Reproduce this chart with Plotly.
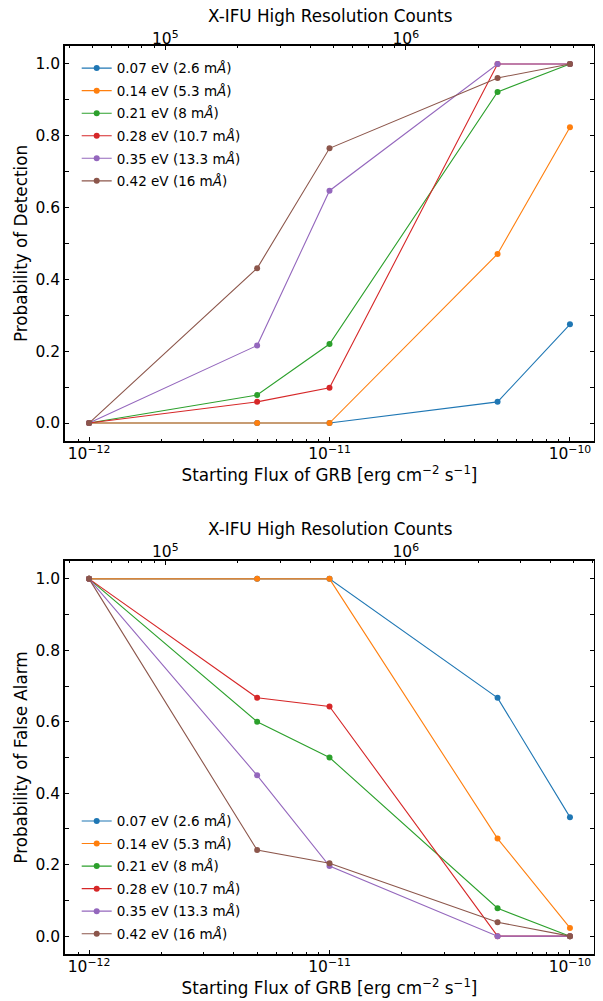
import plotly.graph_objects as go

flux = [1e-12, 5e-12, 1e-11, 5e-11, 1e-10]
labels = ["0.07 eV (2.6 m<i>Å</i>)", "0.14 eV (5.3 m<i>Å</i>)", "0.21 eV (8 m<i>Å</i>)",
          "0.28 eV (10.7 m<i>Å</i>)", "0.35 eV (13.3 m<i>Å</i>)", "0.42 eV (16 m<i>Å</i>)"]
colors = ["#1f77b4", "#ff7f0e", "#2ca02c", "#d62728", "#9467bd", "#8c564b"]

detection = [
    [0.0, 0.0, 0.0, 0.059, 0.275],
    [0.0, 0.0, 0.0, 0.471, 0.824],
    [0.0, 0.078, 0.220, 0.922, 1.0],
    [0.0, 0.059, 0.098, 1.0, 1.0],
    [0.0, 0.216, 0.647, 1.0, 1.0],
    [0.0, 0.431, 0.765, 0.961, 1.0],
]
false_alarm = [
    [1.0, 1.0, 1.0, 0.667, 0.333],
    [1.0, 1.0, 1.0, 0.273, 0.023],
    [1.0, 0.600, 0.500, 0.078, 0.0],
    [1.0, 0.667, 0.643, 0.0, 0.0],
    [1.0, 0.450, 0.196, 0.0, 0.0],
    [1.0, 0.241, 0.204, 0.039, 0.0],
]

counts_per_flux = 10 ** 16.683
top_title = "X-IFU High Resolution Counts"

flux_ticks = [1e-12, 1e-11, 1e-10]
flux_ticktext = ["10<sup>−12</sup>", "10<sup>−11</sup>", "10<sup>−10</sup>"]
count_ticks = [1e5, 1e6]
count_ticktext = ["10<sup>5</sup>", "10<sup>6</sup>"]
y_ticks = [0.0, 0.2, 0.4, 0.6, 0.8, 1.0]
y_ticktext = ["0.0", "0.2", "0.4", "0.6", "0.8", "1.0"]
y_minor = [0.1, 0.3, 0.5, 0.7, 0.9]

flux_minor = [m * 10.0 ** e for e in (-13, -12, -11, -10) for m in range(2, 10)]
count_minor = [m * 10.0 ** e for e in (4, 5, 6) for m in range(2, 10)]

# page offset of the plot div (body margin)
OFF = 8
W, H = 603 - OFF, 1001 - OFF
FONT = "DejaVu Sans"
AX = "#000000"


def px(x):
    return (x - OFF) / W


def py(y):
    return 1 - (y - OFF) / H


fig = go.Figure()

for i in range(6):
    fig.add_trace(go.Scatter(x=flux, y=detection[i], mode="lines+markers", name=labels[i],
                             line=dict(color=colors[i], width=1.1), marker=dict(size=6, color=colors[i]),
                             xaxis="x", yaxis="y", legend="legend", legendgroup="a%d" % i))
for i in range(6):
    fig.add_trace(go.Scatter(x=flux, y=false_alarm[i], mode="lines+markers", name=labels[i],
                             line=dict(color=colors[i], width=1.1), marker=dict(size=6, color=colors[i]),
                             xaxis="x2", yaxis="y2", legend="legend2", legendgroup="b%d" % i))

# invisible traces for the count axes
cnt = [f * counts_per_flux for f in flux]
fig.add_trace(go.Scatter(x=cnt, y=[None] * 5, xaxis="x3", yaxis="y", showlegend=False, hoverinfo="skip"))
fig.add_trace(go.Scatter(x=cnt, y=[None] * 5, xaxis="x4", yaxis="y2", showlegend=False, hoverinfo="skip"))

xd = [px(65), px(594)]
yd1 = [py(441), py(46)]
yd2 = [py(954), py(561)]

tickfont = dict(family=FONT, size=15.5, color="#000")
titlefont = dict(family=FONT, size=16.8, color="#000")

common_x = dict(type="log", range=[-12.1, -9.9], tickmode="array", tickvals=flux_ticks, ticktext=flux_ticktext,
                ticks="inside", ticklen=4, tickwidth=1, tickcolor=AX, showline=True, linecolor=AX, linewidth=1.5,
                mirror=False, showgrid=False, zeroline=False, tickfont=tickfont, domain=xd, automargin=False,
                ticklabelstandoff=-2,
                minor=dict(tickmode="array", tickvals=flux_minor, ticks="inside", ticklen=2, tickwidth=1,
                           tickcolor=AX, showgrid=False),
                title=dict(text="Starting Flux of GRB [erg cm<sup>−2</sup> s<sup>−1</sup>]", font=titlefont, standoff=7))
top_x = dict(type="log", range=[-12.1 + 16.683, -9.9 + 16.683], tickmode="array", tickvals=count_ticks,
             ticktext=count_ticktext, side="top", ticks="inside", ticklen=4, tickwidth=1, tickcolor=AX,
             showline=True, linecolor=AX, linewidth=1.5, showgrid=False, zeroline=False, tickfont=tickfont,
             automargin=False,
             minor=dict(tickmode="array", tickvals=count_minor, ticks="inside", ticklen=2, tickwidth=1,
                        tickcolor=AX, showgrid=False))
common_y = dict(range=[-0.05, 1.05], tickmode="array", tickvals=y_ticks, ticktext=y_ticktext,
                ticks="inside", ticklen=4, tickwidth=1, tickcolor=AX, showline=True, linecolor=AX, linewidth=1.5,
                mirror="allticks", showgrid=False, zeroline=False, tickfont=tickfont, automargin=False,
                minor=dict(tickmode="array", tickvals=y_minor, ticks="inside", ticklen=2, tickwidth=1,
                           tickcolor=AX, showgrid=False))

legend_common = dict(font=dict(family=FONT, size=13.5, color="#000"), bgcolor="rgba(0,0,0,0)",
                     borderwidth=0, tracegroupgap=2, xanchor="left", yanchor="top", itemwidth=30)

fig.update_layout(
    width=W, height=H, margin=dict(l=0, r=0, t=0, b=0), paper_bgcolor="white", plot_bgcolor="white",
    font=dict(family=FONT, color="#000"), showlegend=True,
    xaxis=dict(common_x, anchor="y"),
    xaxis2=dict(common_x, anchor="y2"),
    xaxis3=dict(top_x, anchor="y", overlaying="x", domain=xd, ticklabelstandoff=-6),
    xaxis4=dict(top_x, anchor="y2", overlaying="x2", domain=xd, ticklabelstandoff=-4),
    yaxis=dict(common_y, anchor="x", domain=yd1,
               title=dict(text="Probability of Detection", font=titlefont, standoff=4)),
    yaxis2=dict(common_y, anchor="x2", domain=yd2,
                title=dict(text="Probability of False Alarm", font=titlefont, standoff=4)),
    legend=dict(legend_common, x=px(76.7), y=py(52.8)),
    legend2=dict(legend_common, x=px(76.7), y=py(805.7)),
)

for yc in (16, 529):
    fig.add_annotation(text=top_title, xref="paper", yref="paper", x=(xd[0] + xd[1]) / 2, y=py(yc),
                       xanchor="center", yanchor="middle", showarrow=False, font=titlefont)

fig.write_html("out.html")
